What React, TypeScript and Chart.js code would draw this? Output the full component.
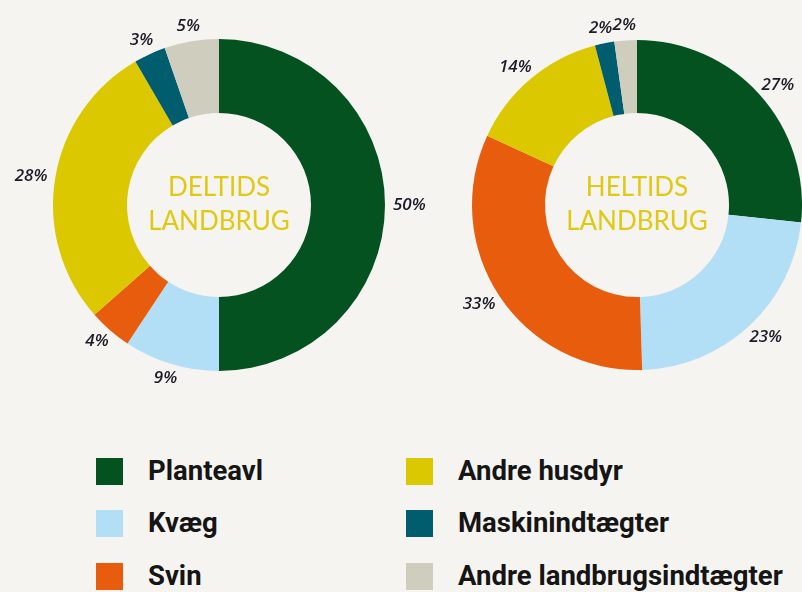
import React, { useEffect, useRef } from "react";
import { Chart, registerables } from "chart.js";

Chart.register(...registerables);

const categories = [
  "Planteavl",
  "Kvæg",
  "Svin",
  "Andre husdyr",
  "Maskinindtægter",
  "Andre landbrugsindtægter",
];
const colors = ["#03521f", "#b2dff6", "#e85c0d", "#dcc800", "#005d6d", "#cfcdbd"];

const deltidsShares = [50, 9.3, 4.2, 28.1, 3.1, 5.3];
const deltidsLabels = ["50%", "9%", "4%", "28%", "3%", "5%"];
const deltidsTitle = ["DELTIDS", "LANDBRUG"];

const heltidsShares = [26.7, 22.8, 32.4, 14.0, 1.9, 2.2];
const heltidsLabels = ["27%", "23%", "33%", "14%", "2%", "2%"];
const heltidsTitle = ["HELTIDS", "LANDBRUG"];

const BG = "#f6f4f0";

const outLabelsPlugin = {
  id: "outLabels",
  afterDraw(chart: any, _args: any, opts: any) {
    const meta = chart.getDatasetMeta(0);
    const ctx = chart.ctx as CanvasRenderingContext2D;
    const labels: string[] = opts.labels || [];
    const title: string[] = opts.title || [];
    ctx.save();
    let cx = 0;
    let cy = 0;
    meta.data.forEach((arc: any, i: number) => {
      const p = arc.getProps(["x", "y", "startAngle", "endAngle", "outerRadius"], true);
      cx = p.x;
      cy = p.y;
      const mid = (p.startAngle + p.endAngle) / 2;
      const dx = Math.cos(mid);
      const dy = Math.sin(mid);
      ctx.font = "italic 600 17px 'Open Sans', sans-serif";
      ctx.fillStyle = "#1c1c28";
      ctx.textAlign = "center";
      ctx.textBaseline = "middle";
      const text = labels[i] || "";
      const hw = ctx.measureText(text).width / 2;
      const hh = 7;
      const r = p.outerRadius + 8;
      const x = cx + r * dx + hw * dx;
      const y = cy + r * dy + hh * dy;
      ctx.fillText(text, x, y);
    });
    ctx.font = "26px Lato, 'Open Sans', sans-serif";
    ctx.fillStyle = "#e0c915";
    ctx.textAlign = "center";
    ctx.textBaseline = "alphabetic";
    if (title[0]) ctx.fillText(title[0], cx, cy - 9);
    if (title[1]) ctx.fillText(title[1], cx, cy + 25);
    ctx.restore();
  },
};

type DonutProps = {
  shares: number[];
  labels: string[];
  title: string[];
  left: number;
  width: number;
  height: number;
  padding: { left: number; right: number; top: number; bottom: number };
  radius: number;
};

function Donut({ shares, labels, title, left, width, height, padding, radius }: DonutProps) {
  const ref = useRef<HTMLCanvasElement | null>(null);
  useEffect(() => {
    if (!ref.current) return;
    const chart = new Chart(ref.current, {
      type: "doughnut",
      data: {
        labels: categories,
        datasets: [
          {
            data: shares,
            backgroundColor: colors,
            borderWidth: 0,
            hoverOffset: 0,
            spacing: 0,
          } as any,
        ],
      },
      options: {
        responsive: false,
        maintainAspectRatio: false,
        animation: false,
        events: [],
        cutout: 92,
        radius: radius,
        layout: { padding },
        plugins: {
          legend: { display: false },
          tooltip: { enabled: false },
          outLabels: { labels, title },
        } as any,
      } as any,
      plugins: [outLabelsPlugin as any],
    });
    return () => chart.destroy();
  }, []);
  return (
    <canvas
      ref={ref}
      width={width}
      height={height}
      style={{ position: "absolute", left, top: 0, width, height }}
    />
  );
}

const legendCols = [
  { sq: 96, tx: 148 },
  { sq: 406, tx: 458 },
];
const legendRows = [471, 523, 576];

export default function App() {
  return (
    <div
      style={{
        position: "absolute",
        left: 0,
        top: 0,
        width: 802,
        height: 592,
        background: BG,
        overflow: "hidden",
      }}
    >
      <Donut
        shares={deltidsShares}
        labels={deltidsLabels}
        title={deltidsTitle}
        left={0}
        width={440}
        height={410}
        padding={{ left: 53, right: 55, top: 39, bottom: 39 }}
        radius={166}
      />
      <Donut
        shares={heltidsShares}
        labels={heltidsLabels}
        title={heltidsTitle}
        left={402}
        width={400}
        height={410}
        padding={{ left: 70, right: 0, top: 40, bottom: 40 }}
        radius={165}
      />
      {categories.map((c, i) => {
        const col = legendCols[Math.floor(i / 3)];
        const rowY = legendRows[i % 3];
        return (
          <React.Fragment key={c}>
            <div
              style={{
                position: "absolute",
                left: col.sq,
                top: rowY - 13,
                width: 27,
                height: 27,
                background: colors[i],
              }}
            />
            <div
              style={{
                position: "absolute",
                left: col.tx,
                top: rowY - 16,
                height: 32,
                lineHeight: "32px",
                fontFamily: "Roboto, sans-serif",
                fontWeight: 700,
                fontSize: 27.5,
                color: "#151515",
                whiteSpace: "nowrap",
              }}
            >
              {c}
            </div>
          </React.Fragment>
        );
      })}
    </div>
  );
}
